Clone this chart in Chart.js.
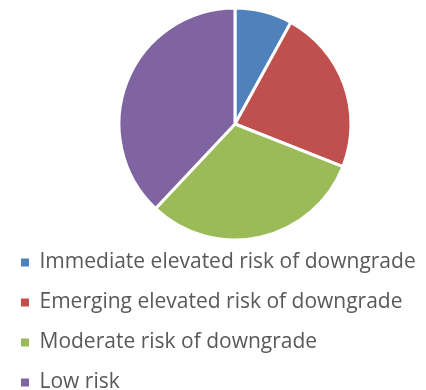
<!DOCTYPE html>
<html>
<head>
<meta charset="utf-8">
<script src="https://cdn.jsdelivr.net/npm/chart.js@4"></script>
<style>
  html, body { margin: 0; padding: 0; background: #fff; }
  #wrap { width: 426px; height: 390px; }
</style>
</head>
<body>
<div id="wrap"><canvas id="myChart" width="426" height="390"></canvas></div>
<script>
// data
const categories = [
    'Immediate elevated risk of downgrade',
    'Emerging elevated risk of downgrade',
    'Moderate risk of downgrade',
    'Low risk'
];
const shares = [8, 23, 31, 38];
const sliceColors = ['#4F81BD', '#C0504D', '#9BBB59', '#8064A2'];

const ctx = document.getElementById('myChart').getContext('2d');

// the pie sits right of the canvas middle while the legend hugs the left edge,
// so nudge the chart area after layout
const shiftPie = {
    id: 'shiftPie',
    afterLayout(chart) {
        const area = chart.chartArea;
        area.left = 44;
        area.width = area.right - area.left;
    }
};

const chart = new Chart(ctx, {
    type: 'pie',
    data: {
        labels: categories,
        datasets: [{
            data: shares,
            backgroundColor: sliceColors,
            borderColor: '#ffffff',
            borderWidth: 3
        }]
    },
    options: {
        responsive: false,
        animation: false,
        radius: 116,
        layout: { padding: { left: 2, top: 15, right: 0, bottom: -13 } },
        plugins: {
            tooltip: { enabled: false },
            legend: {
                position: 'bottom',
                align: 'start',
                labels: {
                    boxWidth: 8,
                    boxHeight: 8,
                    padding: 19,
                    color: '#595959',
                    font: { family: 'Open Sans', size: 21 },
                    // no white outline on the legend squares
                    generateLabels(chart) {
                        const items = Chart.controllers.pie.overrides.plugins.legend.labels.generateLabels(chart);
                        items.forEach(i => { i.lineWidth = 0; });
                        return items;
                    }
                }
            }
        }
    },
    plugins: [shiftPie]
});
</script>
</body>
</html>
